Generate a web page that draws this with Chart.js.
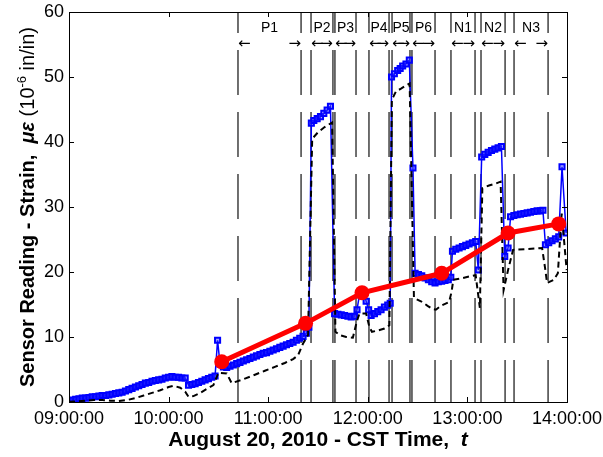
<!DOCTYPE html>
<html><head><meta charset="utf-8">
<script src="https://cdn.jsdelivr.net/npm/chart.js@4.4.1/dist/chart.umd.min.js"></script>
<style>html,body{margin:0;padding:0;background:#fff}</style>
</head><body>
<canvas id="c" width="603" height="457"></canvas>
<script>
// time in minutes after 09:00:00
const blueTimes = [0,2,4,6,8,10,12,14,16,18,20,22,24,26,28,30,32,34,36,38,40,42,44,46,48,50,52,54,56,58,60,62,64,66,68,70,72,74,76,78,80,82,84,86,88,89.5,91,93,95,97,99,101,103,105,107,109,111,113,115,117,119,121,123,125,127,129,131,133,135,137,139,141,143,144.5,146,147.5,149.5,151.5,153.5,155.5,157.5,160,162,164,166,168,170,172,173.5,175,177,179,180.5,182,184,186,188,190,192,193.5,194.3,196,198,199.5,201,203,205,207.2,208.5,210.5,212.5,214.5,216.5,218.5,220.5,222.5,224.5,226.5,228.5,230,231,233,235,237,239,241,243,245,246.6,248.6,250.5,252.5,254.5,256.5,258.5,260.5,262.5,264.5,266,268,270,272,274,276,278,280,282,284,285.5,287,289,291,293,295,297,299.5];
const blueValues = [0.2,0.3,0.4,0.5,0.6,0.6,0.7,0.8,0.8,0.9,1.0,1.0,1.1,1.2,1.3,1.4,1.5,1.7,1.9,2.1,2.3,2.5,2.7,2.9,3.0,3.2,3.3,3.4,3.5,3.7,3.8,3.9,3.8,3.8,3.7,3.7,2.6,2.7,2.8,3.0,3.2,3.4,3.6,3.8,4.0,9.5,5.8,5.4,5.3,5.5,5.7,5.9,6.1,6.3,6.5,6.7,6.9,7.1,7.3,7.5,7.6,7.8,8.0,8.2,8.4,8.6,8.8,9.0,9.2,9.5,9.8,10.1,10.6,11.5,42.9,43.3,43.6,43.9,44.4,44.9,45.5,13.6,13.5,13.4,13.3,13.2,13.1,13.2,14.2,16.5,17.2,15.5,14.2,13.3,13.6,13.9,14.2,14.6,14.9,15.2,50.0,50.5,51.0,51.3,51.7,52.0,52.6,36.0,19.8,19.6,19.4,19.1,18.8,18.5,18.3,18.5,18.6,18.7,18.8,19.2,23.2,23.5,23.7,23.9,24.1,24.3,24.5,24.7,20.3,37.7,38.1,38.4,38.7,38.9,39.1,39.3,22.4,23.7,28.5,28.7,28.8,28.9,29.0,29.1,29.2,29.3,29.4,29.4,29.5,24.2,24.5,24.8,25.1,25.4,36.2,26.0];

const blackTimes = [0,5,10,15,20,25,30,35,40,45,50,55,60,63,67,70,72,75,79,83,87,90,95,98,105,112,118,124,130,135,138,141,144,146.5,150,154,158.5,160.5,163,167,171,173.5,175,179,181,182.5,186,190,193,194.5,197,200,203,205.2,207.8,212,216,219,221,224,229,230.5,231.5,236,241,245,247.5,249,253,257,260,261.8,264.5,267.5,275,285,286.8,288,292,294.5,296.8,299.8];
const blackValues = [0.05,0.1,0.2,0.3,0.3,0.2,0.15,0.3,0.6,1.0,1.4,1.8,2.3,2.5,2.2,1.6,0.8,0.9,1.4,2.0,2.6,4.5,4.4,2.9,3.5,4.2,4.8,5.4,6.0,6.6,7.2,9.0,10.3,40.5,41.5,42.3,43.0,10.8,10.3,10.0,9.9,12.5,13.6,13.6,11.5,10.8,11.0,11.3,11.8,46.5,47.8,48.2,48.7,49.0,16.0,15.5,14.8,14.3,14.2,14.8,15.4,17.0,18.8,19.0,19.3,19.5,14.5,32.9,33.3,33.6,33.9,17.2,20.3,23.4,23.5,23.7,20.6,18.3,18.8,19.8,29.0,20.3];

const redTimes = [92,142.5,176.5,224.5,264.5,295];
const redValues = [6.2,12.1,16.8,19.8,26.0,27.4];

const intervalNames  = ['P1','P2','P3','P4','P5','P6','N1','N2','N3'];
const intervalStarts = [101.8,145.8,160.2,180.7,194.6,206.6,230.1,248.2,268.1];
const intervalEnds   = [139.8,159.0,172.9,192.8,205.4,220.5,244.6,262.7,288.6];

const xTickLabels = ['09:00:00','10:00:00','11:00:00','12:00:00','13:00:00','14:00:00'];
const yTickValues = [0,10,20,30,40,50,60];

const FONT = "'Liberation Sans', Arial, sans-serif";

function pts(ts, vs){ return ts.map((t,i)=>({x:t,y:vs[i]})); }

const datasets = [];
datasets.push({label:'fit', data:pts(redTimes,redValues), borderColor:'#ff0000', backgroundColor:'#ff0000',
  borderWidth:5, pointRadius:7.5, pointBorderWidth:0, pointBackgroundColor:'#ff0000', order:0});
datasets.push({label:'temp', data:pts(blackTimes,blackValues), borderColor:'#000', borderWidth:2,
  borderDash:[6,4], pointRadius:0, order:1});
datasets.push({label:'sensor', data:pts(blueTimes,blueValues), borderColor:'#0000ff', borderWidth:1.5,
  pointStyle:'rect', pointRadius:3.6, pointBorderWidth:2, pointBorderColor:'#0000ff',
  pointBackgroundColor:'rgba(60,60,255,0.45)', order:2});
intervalStarts.concat(intervalEnds).forEach((t)=>{
  datasets.push({label:'bound', data:[{x:t,y:60},{x:t,y:0}], borderColor:'#333333', borderWidth:1.4,
    borderDash:[45,17], borderDashOffset:24, pointRadius:0, order:3});
});

const decor = {
  id:'decor',
  afterDraw(chart){
    const ctx = chart.ctx, a = chart.chartArea, xs = chart.scales.x, ys = chart.scales.y;
    ctx.save();
    ctx.strokeStyle = '#000'; ctx.lineWidth = 1;
    ctx.strokeRect(Math.round(a.left)+0.5, Math.round(a.top)+0.5, Math.round(a.right-a.left), Math.round(a.bottom-a.top));
    // inward mirror ticks
    ctx.beginPath();
    yTickValues.forEach(v=>{
      const y = Math.round(ys.getPixelForValue(v))+0.5;
      ctx.moveTo(a.left, y); ctx.lineTo(a.left+5, y);
      ctx.moveTo(a.right, y); ctx.lineTo(a.right-5, y);
    });
    xTickLabels.forEach((l,i)=>{
      const x = Math.round(xs.getPixelForValue(i*60))+0.5;
      ctx.moveTo(x, a.top); ctx.lineTo(x, a.top+5);
      ctx.moveTo(x, a.bottom); ctx.lineTo(x, a.bottom-5);
    });
    ctx.stroke();
    // interval labels and arrows
    ctx.fillStyle = '#000';
    ctx.textBaseline = 'middle';
    intervalNames.forEach((n,i)=>{
      const x0 = xs.getPixelForValue(intervalStarts[i]), x1 = xs.getPixelForValue(intervalEnds[i]);
      ctx.font = '14px ' + FONT;
      ctx.textAlign = 'center';
      ctx.fillText(n, (x0+x1)/2, 28);
      ctx.font = "15px 'DejaVu Sans', sans-serif";
      ctx.textAlign = 'left'; ctx.fillText('\u2190', x0, 44);
      ctx.textAlign = 'right'; ctx.fillText('\u2192', x1, 44);
    });
    // x title
    ctx.textBaseline = 'alphabetic';
    const xt1 = 'August 20, 2010 - CST Time,  ', xt2 = 't';
    ctx.font = 'bold 21px ' + FONT; const w1 = ctx.measureText(xt1).width;
    ctx.font = 'bold italic 21px ' + FONT; const w2 = ctx.measureText(xt2).width;
    let xc = (a.left+a.right)/2 - (w1+w2)/2;
    ctx.textAlign = 'left';
    ctx.font = 'bold 21px ' + FONT; ctx.fillText(xt1, xc, 446);
    ctx.font = 'bold italic 21px ' + FONT; ctx.fillText(xt2, xc+w1, 446);
    // y title
    const parts = [
      ['Sensor Reading - Strain,  ', 'bold 20px '+FONT, 0],
      ['\u03bc\u03b5', 'bold italic 20px '+FONT, 0],
      [' (10', '20px '+FONT, 0],
      ['-6', '13px '+FONT, -8],
      [' in/in)', '20px '+FONT, 0]
    ];
    let tot = 0; parts.forEach(p=>{ctx.font=p[1]; p.push(ctx.measureText(p[0]).width); tot+=p[3];});
    ctx.translate(34, (a.top+a.bottom)/2);
    ctx.rotate(-Math.PI/2);
    let px = -tot/2;
    parts.forEach(p=>{ctx.font=p[1]; ctx.fillText(p[0], px, p[2]); px+=p[3];});
    ctx.restore();
  }
};

new Chart(document.getElementById('c'), {
  type:'line',
  data:{datasets},
  options:{
    responsive:false, animation:false, devicePixelRatio:1,
    layout:{padding:{top:12,right:36,left:0,bottom:0}},
    plugins:{legend:{display:false}, tooltip:{enabled:false}},
    elements:{line:{tension:0}},
    scales:{
      x:{type:'linear', min:0, max:300,
         grid:{display:false, drawTicks:false}, border:{display:false},
         afterFit(s){ s.height = 55; s.paddingLeft = 0; s.paddingRight = 0; s.paddingTop = 0; s.paddingBottom = 0; },
         ticks:{stepSize:60, padding:6, color:'#000', font:{family:FONT, size:18}, maxRotation:0,
           callback:(v,i)=>xTickLabels[i]}},
      y:{min:0, max:60,
         grid:{display:false, drawTicks:false}, border:{display:false},
         afterFit(s){ s.width = 69; s.paddingTop = 0; s.paddingBottom = 0; s.paddingLeft = 0; s.paddingRight = 0; },
         ticks:{stepSize:10, padding:5, color:'#000', font:{family:FONT, size:18}}}
    }
  },
  plugins:[decor]
});
</script>
</body></html>
